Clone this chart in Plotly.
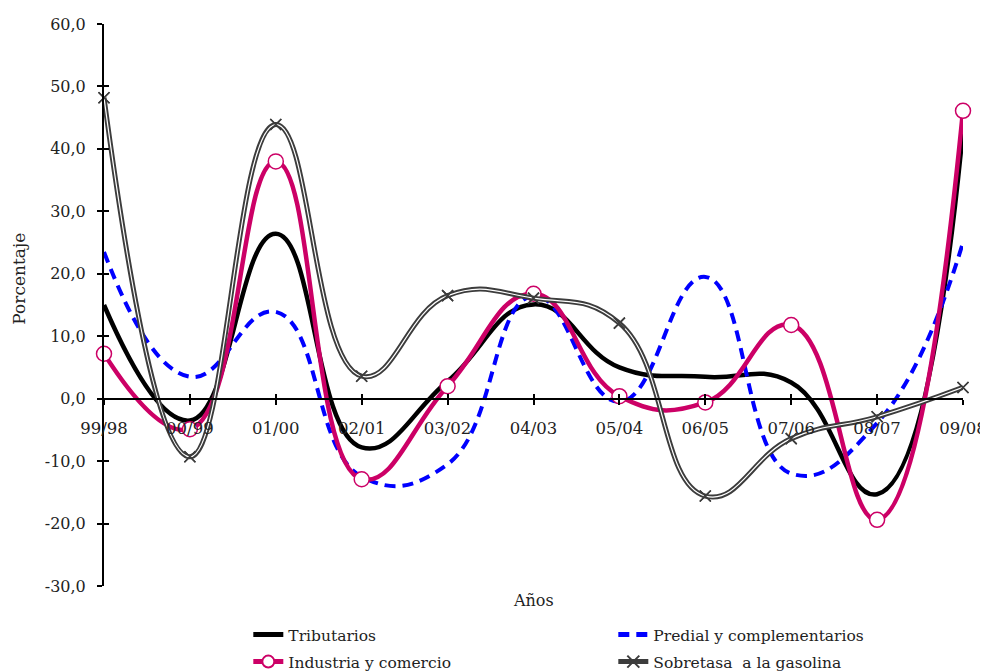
import plotly.graph_objects as go

# datos
anios = ["99/98", "00/99", "01/00", "02/01", "03/02", "04/03",
         "05/04", "06/05", "07/06", "08/07", "09/08"]

tributarios = [15.0, -3.5, 26.4, -7.8, 2.8, 15.1, 5.0, 3.5, 2.6, -15.3, 43.0]
predial = [23.5, 3.5, 13.9, -12.5, -10.5, 16.5, -0.5, 19.5, -12.0, -3.9, 25.0]
industria = [7.2, -4.9, 38.0, -12.9, 2.0, 16.8, 0.4, -0.6, 11.8, -19.4, 46.1]
sobretasa = [48.2, -9.3, 43.9, 3.6, 16.5, 16.1, 12.1, -15.6, -6.4, -2.9, 1.8]

y_ticks = [-30, -20, -10, 0, 10, 20, 30, 40, 50, 60]
y_tick_labels = ["-30,0", "-20,0", "-10,0", "0,0", "10,0", "20,0",
                 "30,0", "40,0", "50,0", "60,0"]

fuente = "DejaVu Serif"
texto = "#222222"
gris = "#3c3c3c"
magenta = "#CC0066"
suave = 1.3

fig = go.Figure()

fig.add_trace(go.Scatter(x=anios, y=tributarios, name="Tributarios", mode="lines",
                         line=dict(color="black", width=4.5, shape="spline", smoothing=suave),
                         cliponaxis=False, legend="legend"))
fig.add_trace(go.Scatter(x=anios, y=predial, name="Predial y complementarios", mode="lines",
                         line=dict(color="#0000FF", width=4, dash="11px,7px",
                                   shape="spline", smoothing=suave),
                         cliponaxis=False, legend="legend"))
fig.add_trace(go.Scatter(x=anios, y=industria, name="Industria y comercio", mode="lines+markers",
                         line=dict(color=magenta, width=4.5, shape="spline", smoothing=suave),
                         marker=dict(symbol="circle", size=15, color="white",
                                     line=dict(color=magenta, width=1.5)),
                         cliponaxis=False, legend="legend2"))
# linea doble: gris ancha + blanca fina encima
fig.add_trace(go.Scatter(x=anios, y=sobretasa, name="Sobretasa  a la gasolina", mode="lines+markers",
                         line=dict(color=gris, width=5, shape="spline", smoothing=suave),
                         marker=dict(symbol="x-thin", size=11, color=gris,
                                     line=dict(color=gris, width=1.5)),
                         cliponaxis=False, legend="legend2"))
fig.add_trace(go.Scatter(x=anios, y=sobretasa, mode="lines", showlegend=False, hoverinfo="skip",
                         line=dict(color="white", width=1.2, shape="spline", smoothing=suave),
                         cliponaxis=False))
fig.add_trace(go.Scatter(x=anios, y=sobretasa, mode="markers", showlegend=False, hoverinfo="skip",
                         marker=dict(symbol="x-thin", size=11, color=gris,
                                     line=dict(color=gris, width=1.5)),
                         cliponaxis=False))
# eje auxiliar para que las marcas crucen el eje
fig.add_trace(go.Scatter(x=[], y=[], xaxis="x2", yaxis="y2", showlegend=False))

leg = dict(orientation="h", x=0.168, xanchor="left", yanchor="top",
           entrywidth=320, entrywidthmode="pixels", bgcolor="rgba(0,0,0,0)",
           itemsizing="constant",
           font=dict(family=fuente, size=15.5, color=texto))

# la pagina deja 8px de margen en el body, por eso la figura es 980x664
fig.update_layout(
    width=980, height=664,
    margin=dict(l=96, r=25, t=16, b=86, autoexpand=False),
    plot_bgcolor="white", paper_bgcolor="white",
    font=dict(family=fuente, size=16, color=texto),
    showlegend=True,
    legend=dict(leg, y=-0.057),
    legend2=dict(leg, y=-0.105),
    xaxis=dict(type="category", range=[0, 10], anchor="free", position=1 / 3,
               showline=True, linecolor="black", linewidth=2,
               ticks="outside", ticklen=5, tickwidth=1.5, tickcolor="black",
               ticklabelstandoff=10, showgrid=False, zeroline=False,
               tickfont=dict(family=fuente, size=16.5, color=texto)),
    yaxis=dict(range=[-30, 60], tickvals=y_ticks, ticktext=y_tick_labels,
               showline=True, linecolor="black", linewidth=2,
               ticks="outside", ticklen=5, tickwidth=2, tickcolor="black",
               ticklabelstandoff=8, showgrid=False, zeroline=False,
               tickfont=dict(family=fuente, size=16, color=texto)),
    xaxis2=dict(overlaying="x", type="linear", range=[0, 10], tickvals=list(range(11)),
                anchor="free", position=1 / 3, ticks="inside", ticklen=5, tickwidth=1.5,
                tickcolor="black", showticklabels=False, showline=False,
                showgrid=False, zeroline=False),
    yaxis2=dict(overlaying="y", range=[-30, 60], tickvals=y_ticks, anchor="x2", side="left",
                ticks="inside", ticklen=5, tickwidth=2, tickcolor="black",
                showticklabels=False, showline=False, showgrid=False, zeroline=False),
    annotations=[
        dict(text="Años", xref="paper", yref="paper", x=0.5, y=-0.025,
             xanchor="center", yanchor="middle", showarrow=False,
             font=dict(family=fuente, size=16, color=texto)),
        dict(text="Porcentaje", xref="paper", yref="paper", x=-0.1, y=0.547,
             xanchor="center", yanchor="middle", showarrow=False, textangle=-90,
             font=dict(family=fuente, size=17, color=texto)),
    ],
)

fig.write_html("out.html")
